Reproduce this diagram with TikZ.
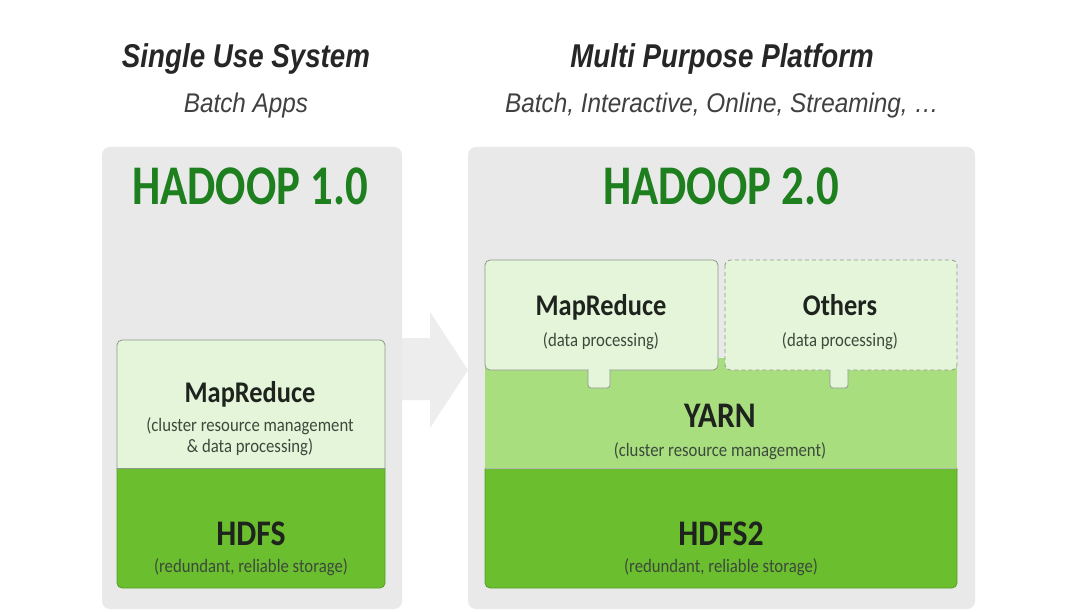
\documentclass[tikz,border=0pt]{standalone}
\usepackage{fontspec}
\newfontfamily\ttlfont{Liberation Sans}[FakeStretch=0.84]
\newfontfamily\subfont{Liberation Sans}[FakeStretch=0.9]
\newfontfamily\hadfont{Carlito}[FakeStretch=0.8]
\newfontfamily\boxfont{Carlito}[FakeStretch=0.88]
\definecolor{panelgray}{HTML}{E9E9E9}
\definecolor{arrowgray}{HTML}{EDEDED}
\definecolor{lightbox}{HTML}{E4F5DA}
\definecolor{yarngreen}{HTML}{A9DE7F}
\definecolor{hdfsgreen}{HTML}{6BBE2E}
\definecolor{hadgreen}{HTML}{1D7F1D}
\definecolor{boxline}{HTML}{8E9A8E}
\definecolor{hdfsline}{HTML}{55A023}
\definecolor{headtext}{HTML}{1E231E}
\definecolor{subtext}{HTML}{3C4A3C}
\tikzset{
  panel/.style={fill=panelgray, rounded corners=8pt},
  lbox/.style={fill=lightbox, draw=boxline, line width=0.8pt, rounded corners=5pt},
  title/.style={font=\ttlfont\bfseries\itshape\fontsize{33}{36}\selectfont, text=black!85, anchor=base, inner sep=0pt},
  subtitle/.style={font=\subfont\itshape\fontsize{27}{30}\selectfont, text=black!75, anchor=base, inner sep=0pt},
  hadoop/.style={font=\hadfont\bfseries\fontsize{56}{60}\selectfont, text=hadgreen, anchor=base, inner sep=0pt},
  head/.style={font=\boxfont\bfseries\fontsize{30}{32}\selectfont, text=headtext, anchor=base, inner sep=0pt},
  bighead/.style={font=\boxfont\bfseries\fontsize{36}{38}\selectfont, text=headtext, anchor=base, inner sep=0pt},
  sub/.style={font=\boxfont\fontsize{19}{21}\selectfont, text=subtext, anchor=base, inner sep=0pt},
}
\begin{document}
\begin{tikzpicture}[x=1pt,y=-1pt]
\useasboundingbox (0,0) rectangle (1070,612);
\fill[white] (0,0) rectangle (1070,612);

% big arrow between the panels
\fill[arrowgray] (390,338) -- (430,338) -- (430,312) -- (468,370) -- (430,428) -- (430,400) -- (390,400) -- cycle;

% panels
\fill[panel] (102,147) rectangle (402,609);
\fill[panel] (468,147) rectangle (975,609);

% ---------- HADOOP 1.0 ----------
\begin{scope}
  \clip (100,468) rectangle (400,600);
  \draw[fill=hdfsgreen, draw=hdfsline, line width=0.8pt, rounded corners=5pt] (117,450) rectangle (385,588);
\end{scope}
\begin{scope}
  \clip (100,330) rectangle (400,468);
  \draw[lbox] (117,340) rectangle (385,480);
\end{scope}
\draw[boxline, line width=0.8pt] (117,468) -- (385,468);

\node[hadoop] (h1) at (250,205) {HADOOP 1.0};
\node[head] (mr1) at (250,402) {MapReduce};
\node[sub] (mr1a) at (250,431) {(cluster resource management};
\node[sub] (mr1b) at (250,452) {\& data processing)};
\node[bighead] (hdfs1) at (251,545) {HDFS};
\node[sub] (hdfs1a) at (251,572) {(redundant, reliable storage)};

% ---------- HADOOP 2.0 ----------
\fill[yarngreen] (485,358) rectangle (957,470);
\begin{scope}
  \clip (480,468) rectangle (962,600);
  \draw[fill=hdfsgreen, draw=hdfsline, line width=0.8pt, rounded corners=5pt] (485,450) rectangle (957,588);
\end{scope}
\draw[boxline!70, line width=0.6pt] (485,468) -- (957,468);

\draw[lbox] (485,260) rectangle (718,370);
\draw[lbox, dash pattern=on 4pt off 3pt] (725,260) rectangle (957,370);

% tabs
\draw[fill=lightbox, draw=boxline, line width=0.8pt, rounded corners=3pt] (588,370) -- (588,388) -- (610,388) -- (610,370);
\fill[lightbox] (588.6,366) rectangle (609.4,372);
\draw[fill=lightbox, draw=boxline, line width=0.8pt, rounded corners=3pt] (830,370) -- (830,388) -- (848,388) -- (848,370);
\fill[lightbox] (830.6,366) rectangle (847.4,372);

\node[hadoop] (h2) at (721,205) {HADOOP 2.0};
\node[head] (mr2) at (601,315) {MapReduce};
\node[sub] (mr2a) at (601,346) {(data processing)};
\node[head] (oth) at (840,315) {Others};
\node[sub] (otha) at (840,346) {(data processing)};
\node[bighead] (yarn) at (720,427) {YARN};
\node[sub] (yarna) at (720,456) {(cluster resource management)};
\node[bighead] (hdfs2) at (721,545) {HDFS2};
\node[sub] (hdfs2a) at (721,572) {(redundant, reliable storage)};

% ---------- titles ----------
\node[title] (t1) at (246,68) {Single Use System};
\node[subtitle] (s1) at (246,113) {Batch Apps};
\node[title] (t2) at (722,68) {Multi Purpose Platform};
\node[subtitle] (s2) at (722,113) {Batch, Interactive, Online, Streaming, \ldots};
\end{tikzpicture}
\end{document}
